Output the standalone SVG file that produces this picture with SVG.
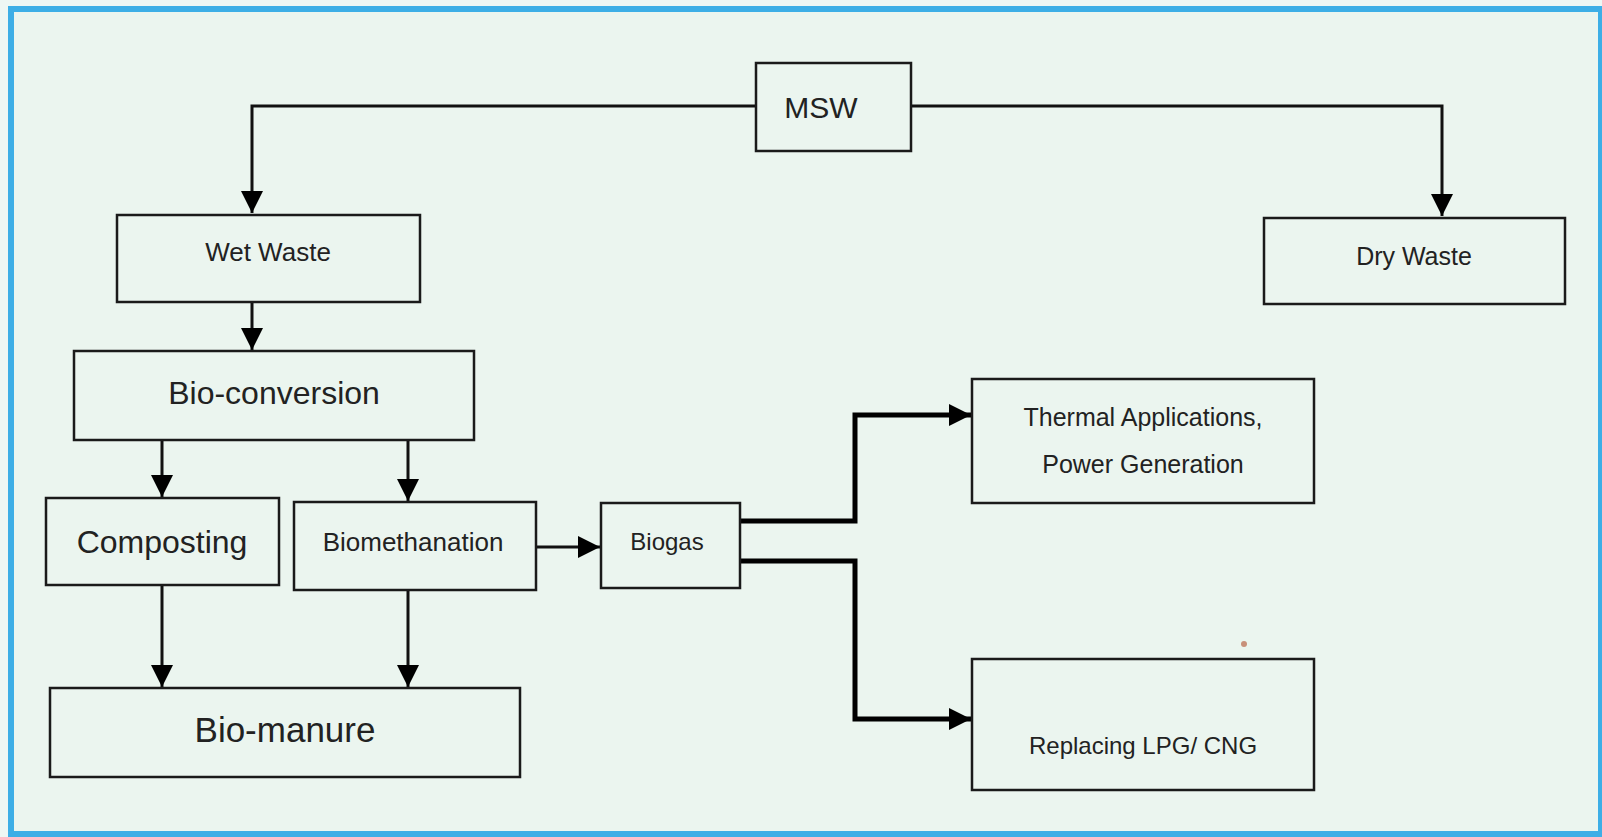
<svg xmlns="http://www.w3.org/2000/svg" width="1602" height="837" viewBox="0 0 1602 837">
<style>
.box{fill:none;stroke:#1a1a1a;stroke-width:2.5}
.t{font-family:"Liberation Sans",Arial,sans-serif;fill:#222;text-anchor:middle}
.c{fill:none;stroke:#111;stroke-width:3}
.ck{fill:none;stroke:#000;stroke-width:5}
</style>
<defs>
<marker id="ah" viewBox="0 0 10 10" refX="10" refY="5" markerWidth="7.5" markerHeight="7.5" markerUnits="strokeWidth" orient="auto">
<path d="M0,0 L10,5 L0,10 Z" fill="#000"/>
</marker>
<marker id="ahk" viewBox="0 0 10 10" refX="10" refY="5" markerWidth="4.4" markerHeight="4.4" markerUnits="strokeWidth" orient="auto">
<path d="M0,0 L10,5 L0,10 Z" fill="#000"/>
</marker>
</defs>
<rect x="0" y="0" width="1602" height="837" fill="#eef7f4"/>
<rect x="11" y="9" width="1590" height="825" fill="#ebf5ef" stroke="#3daee6" stroke-width="6"/>
<g id="connectors">
<path class="c" d="M756,106 H252 V213" marker-end="url(#ah)"/>
<path class="c" d="M911,106 H1442 V216" marker-end="url(#ah)"/>
<path class="c" d="M252,302 V350" marker-end="url(#ah)"/>
<path class="c" d="M162,440 V497" marker-end="url(#ah)"/>
<path class="c" d="M408,440 V501" marker-end="url(#ah)"/>
<path class="c" d="M162,585 V687" marker-end="url(#ah)"/>
<path class="c" d="M408,590 V687" marker-end="url(#ah)"/>
<path class="c" d="M536,547 V547 H600" marker-end="url(#ah)"/>
<path class="ck" d="M740,521 H855 V415 H971" marker-end="url(#ahk)"/>
<path class="ck" d="M740,561 H855 V719 H971" marker-end="url(#ahk)"/>
</g>
<g id="msw"><rect class="box" x="756" y="63" width="155" height="88"/><text class="t" x="821" y="118" font-size="30">MSW</text></g>
<g id="wet"><rect class="box" x="117" y="215" width="303" height="87"/><text class="t" x="268" y="261" font-size="26">Wet Waste</text></g>
<g id="dry"><rect class="box" x="1264" y="218" width="301" height="86"/><text class="t" x="1414" y="265" font-size="25">Dry Waste</text></g>
<g id="bioconv"><rect class="box" x="74" y="351" width="400" height="89"/><text class="t" x="274" y="404" font-size="32">Bio-conversion</text></g>
<g id="composting"><rect class="box" x="46" y="498" width="233" height="87"/><text class="t" x="162" y="553" font-size="32">Composting</text></g>
<g id="biometh"><rect class="box" x="294" y="502" width="242" height="88"/><text class="t" x="413" y="551" font-size="26">Biomethanation</text></g>
<g id="biogas"><rect class="box" x="601" y="503" width="139" height="85"/><text class="t" x="667" y="550" font-size="24">Biogas</text></g>
<g id="thermal"><rect class="box" x="972" y="379" width="342" height="124"/><text class="t" x="1143" y="426" font-size="25">Thermal Applications,</text><text class="t" x="1143" y="473" font-size="25">Power Generation</text></g>
<g id="lpg"><rect class="box" x="972" y="659" width="342" height="131"/><text class="t" x="1143" y="754" font-size="24">Replacing LPG/ CNG</text></g>
<g id="biomanure"><rect class="box" x="50" y="688" width="470" height="89"/><text class="t" x="285" y="742" font-size="35">Bio-manure</text></g>
<circle cx="1244" cy="644" r="3" fill="#c8907a"/>
</svg>
